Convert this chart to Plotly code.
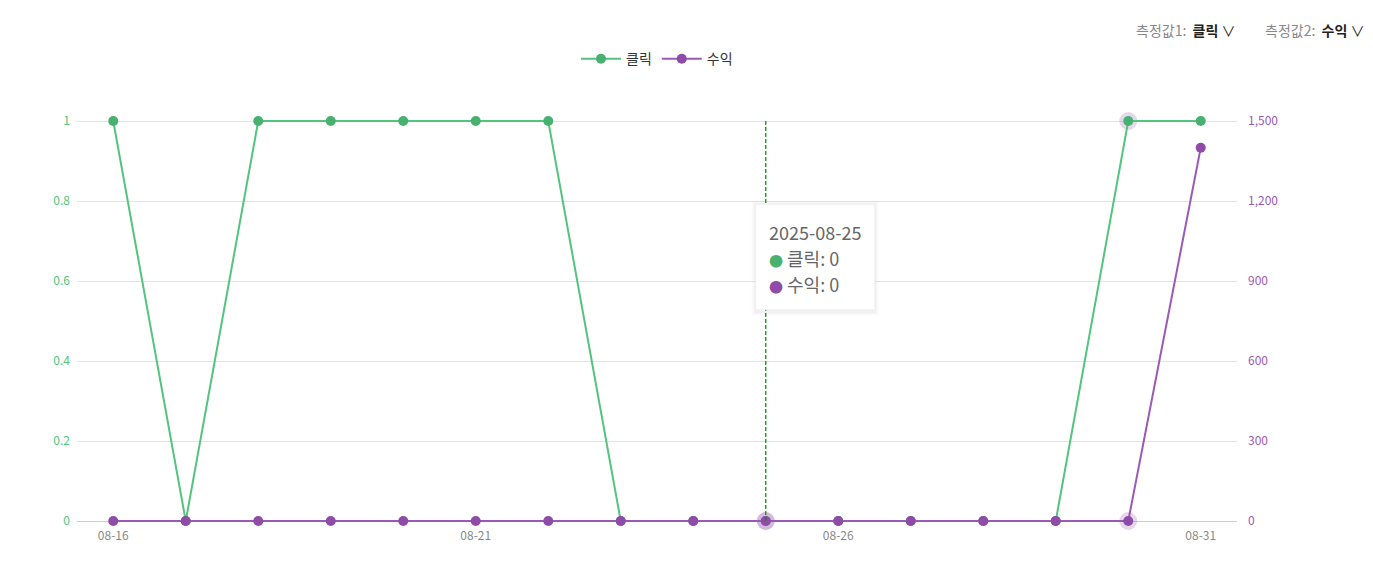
import plotly.graph_objects as go

# daily data, 2025-08-16 .. 2025-08-31
dates = ["2025-08-16", "2025-08-17", "2025-08-18", "2025-08-19", "2025-08-20",
         "2025-08-21", "2025-08-22", "2025-08-23", "2025-08-24", "2025-08-25",
         "2025-08-26", "2025-08-27", "2025-08-28", "2025-08-29", "2025-08-30",
         "2025-08-31"]
clicks = [1, 0, 1, 1, 1, 1, 1, 0, 0, 0, 0, 0, 0, 0, 1, 1]
revenue = [0, 0, 0, 0, 0, 0, 0, 0, 0, 0, 0, 0, 0, 0, 0, 1400]

hover_idx = 9       # 2025-08-25, tooltip shown
halo_idx = [9, 14]  # highlighted points

green_line = "#52c47c"
green_dot = "#48b16f"
purple_line = "#9b59b6"
purple_dot = "#8e4ca8"
font_fam = "Noto Sans CJK KR, Noto Sans, sans-serif"

fig = go.Figure()

# halos behind highlighted points
fig.add_trace(go.Scatter(
    x=[dates[i] for i in halo_idx], y=[clicks[i] for i in halo_idx],
    mode="markers", marker=dict(size=18, color="rgba(142,76,168,0.22)"),
    showlegend=False, hoverinfo="skip", cliponaxis=False))
fig.add_trace(go.Scatter(
    x=[dates[i] for i in halo_idx], y=[revenue[i] for i in halo_idx], yaxis="y2",
    mode="markers", marker=dict(size=18, color="rgba(142,76,168,0.22)"),
    showlegend=False, hoverinfo="skip", cliponaxis=False))

fig.add_trace(go.Scatter(
    x=dates, y=clicks, name="클릭", mode="lines+markers",
    line=dict(color=green_line, width=2),
    marker=dict(size=10, color=green_dot), cliponaxis=False))
fig.add_trace(go.Scatter(
    x=dates, y=revenue, name="수익", mode="lines+markers", yaxis="y2",
    line=dict(color=purple_line, width=2),
    marker=dict(size=10, color=purple_dot), cliponaxis=False))

# hover guide line
fig.add_shape(type="line", xref="x", yref="y",
              x0=dates[hover_idx], x1=dates[hover_idx], y0=0, y1=1,
              line=dict(color="#009a00", width=1.3, dash="4px,2px"))

# tooltip box (soft shadow + white card)
for grow, col in [(4, "rgba(0,0,0,0.02)"), (2, "rgba(0,0,0,0.035)")]:
    fig.add_shape(type="rect", xref="x", yref="paper", xsizemode="pixel",
                  xanchor=dates[hover_idx], x0=-10 - grow, x1=109 + grow,
                  y0=0.5275 - grow / 408 - 0.004, y1=0.785 + grow / 408,
                  fillcolor=col, line=dict(width=0), layer="above")
fig.add_shape(type="rect", xref="x", yref="paper", xsizemode="pixel",
              xanchor=dates[hover_idx], x0=-10, x1=109, y0=0.5275, y1=0.785,
              fillcolor="white", line=dict(color="#f2f2f2", width=1), layer="above")

tip_lines = [
    dates[hover_idx],
    f"<span style='color:{green_dot};font-size:14px'>●</span> 클릭: {clicks[hover_idx]}",
    f"<span style='color:{purple_dot};font-size:14px'>●</span> 수익: {revenue[hover_idx]}",
]
for k, t in enumerate(tip_lines):
    fig.add_annotation(x=dates[hover_idx], y=0.7175 - k * 0.0637,
                       xref="x", yref="paper", xanchor="left", yanchor="middle",
                       xshift=1, text=t, showarrow=False,
                       font=dict(size=18, color="#666", family=font_fam))

# measure selectors at top right
fig.add_annotation(
    x=1.0, y=1.0, xref="paper", yref="paper", xanchor="right", yanchor="middle",
    xshift=1, yshift=87, showarrow=False,
    text="<span style='color:#888'>측정값1:</span>  <b>클릭</b> ∨",
    font=dict(size=14, color="#222", family=font_fam))
fig.add_annotation(
    x=1.0, y=1.0, xref="paper", yref="paper", xanchor="right", yanchor="middle",
    xshift=130, yshift=87, showarrow=False,
    text="<span style='color:#888'>측정값2:</span>  <b>수익</b> ∨",
    font=dict(size=14, color="#222", family=font_fam))

fig.update_layout(
    width=1365, height=570,
    margin=dict(l=69, r=136, t=109, b=53),
    paper_bgcolor="white", plot_bgcolor="white",
    font=dict(family=font_fam, size=12, color="#888"),
    legend=dict(orientation="h", x=0.5, xanchor="center", y=1.142, yanchor="middle",
                font=dict(size=14, color="#333"), itemwidth=40),
    xaxis=dict(type="date", range=["2025-08-15 12:00", "2025-08-31 12:00"],
               tickvals=[dates[0], dates[5], dates[10], dates[15]],
               tickformat="%m-%d", showgrid=False, showline=False,
               ticks="", tickfont=dict(color="#888", size=12),
               zeroline=False, ticklabelstandoff=2),
    yaxis=dict(range=[-0.01, 1.01], tickvals=[0, 0.2, 0.4, 0.6, 0.8, 1],
               ticktext=["0", "0.2", "0.4", "0.6", "0.8", "1"],
               gridcolor="#e3e3e3", zeroline=True, zerolinecolor="#cccccc",
               zerolinewidth=1, showline=False,
               tickfont=dict(color="#52c47c", size=12), ticklabelstandoff=6),
    yaxis2=dict(overlaying="y", side="right", range=[-15, 1515],
                tickvals=[0, 300, 600, 900, 1200, 1500], tickformat=",",
                showgrid=False, zeroline=False, showline=False,
                tickfont=dict(color="#9b59b6", size=12), ticklabelstandoff=10),
)

fig.write_html("out.html")
